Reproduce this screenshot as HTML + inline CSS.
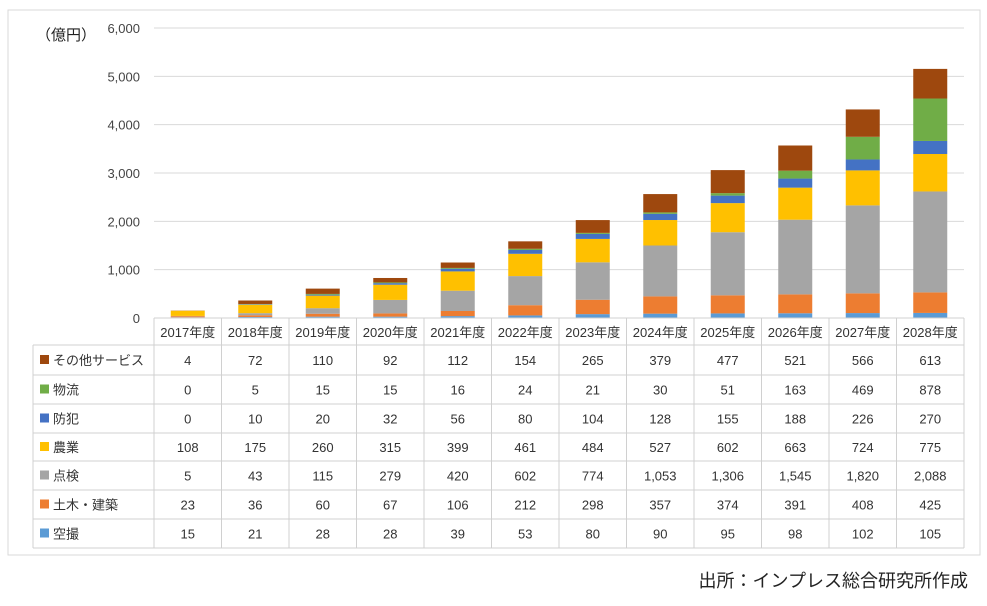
<!DOCTYPE html>
<html><head><meta charset="utf-8"><style>
body{margin:0;background:#fff;width:987px;height:601px;overflow:hidden;font-family:"Liberation Sans","Noto Sans CJK JP",sans-serif;}
</style></head><body>
<svg id="c" width="987" height="601" xmlns="http://www.w3.org/2000/svg" font-family="Liberation Sans, Noto Sans CJK JP, sans-serif"></svg>
<script>
const years=["2017年度","2018年度","2019年度","2020年度","2021年度","2022年度","2023年度","2024年度","2025年度","2026年度","2027年度","2028年度"];
const seriesNames=["空撮","土木・建築","点検","農業","防犯","物流","その他サービス"];
const aerial=[15,21,28,28,39,53,80,90,95,98,102,105];
const civil=[23,36,60,67,106,212,298,357,374,391,408,425];
const inspection=[5,43,115,279,420,602,774,1053,1306,1545,1820,2088];
const agriculture=[108,175,260,315,399,461,484,527,602,663,724,775];
const security=[0,10,20,32,56,80,104,128,155,188,226,270];
const logistics=[0,5,15,15,16,24,21,30,51,163,469,878];
const other=[4,72,110,92,112,154,265,379,477,521,566,613];
const yTicks=[0,1000,2000,3000,4000,5000,6000];
const colors=["#5B9BD5","#ED7D31","#A5A5A5","#FFC000","#4472C4","#70AD47","#9E480E"];
const series=[aerial,civil,inspection,agriculture,security,logistics,other];
const svg=document.getElementById('c');const NS="http://www.w3.org/2000/svg";
function el(t,a,txt){const e=document.createElementNS(NS,t);for(const k in a)e.setAttribute(k,a[k]);if(txt!==undefined)e.textContent=txt;svg.appendChild(e);return e;}
const x0=154,colW=67.5,yBase=318,yTop=28,yMax=6000;
const y=v=>yBase-(v/yMax)*(yBase-yTop);
const xc=i=>x0+colW*(i+0.5);
const fmt=v=>v.toLocaleString('en-US');
let e=el('rect',{x:8,y:10,width:972,height:545,fill:'#fff',stroke:'#d9d9d9'});

e=el('text',{x:36,y:40,'font-size':15,fill:'#222'},'（億円）');

yTicks.forEach(t=>{
 if(t>0){const g=el('line',{x1:x0,x2:964,y1:y(t),y2:y(t),stroke:'#d9d9d9'});}
 const l=el('text',{x:140,y:y(t)+5,'font-size':13,fill:'#444','text-anchor':'end'},fmt(t));
 
});
years.forEach((yr,i)=>{
 let acc=0;
 series.forEach((s,k)=>{
  const v=s[i];const r=el('rect',{x:xc(i)-17,y:y(acc+v),width:34,height:y(acc)-y(acc+v),fill:colors[k]});
  acc+=v;
 });
});
// table
const rowY=[318,345,375,404,433,461,490,519,548];
const tl=(x1,y1,x2,y2)=>{const l=el('line',{x1,y1,x2,y2,stroke:'#d0d0d0'});};
tl(x0,318,964,318);
for(let r=1;r<rowY.length;r++)tl(33,rowY[r],964,rowY[r]);
tl(33,345,33,548);
for(let c=0;c<=12;c++)tl(x0+colW*c,318,x0+colW*c,548);
years.forEach((yr,i)=>{const t=el('text',{x:xc(i),y:337,'font-size':13,fill:'#333','text-anchor':'middle'},yr);});
for(let k=6;k>=0;k--){
 const r=6-k;const cy=(rowY[r+1]+rowY[r+2])/2;
 const sw=el('rect',{x:40,y:cy-5,width:9,height:9,fill:colors[k]});
 const t=el('text',{x:53,y:cy+5,'font-size':13,fill:'#333'},seriesNames[k]);
 series[k].forEach((v,i)=>{const vt=el('text',{x:xc(i),y:cy+5,'font-size':13,fill:'#333','text-anchor':'middle'},fmt(v));});
}
e=el('text',{x:968,y:587,'font-size':18,fill:'#222','text-anchor':'end'},'出所：インプレス総合研究所作成');

</script></body></html>
